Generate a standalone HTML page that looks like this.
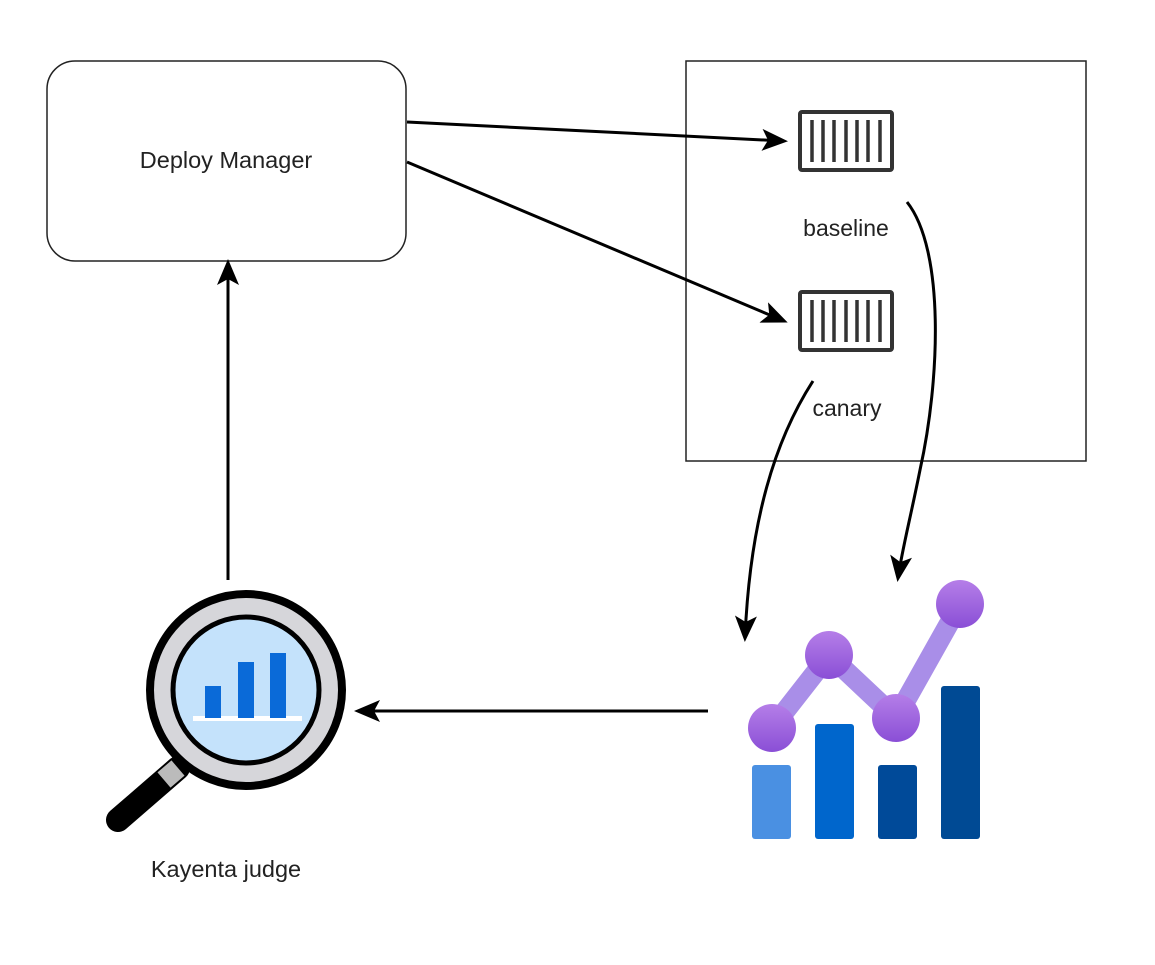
<!DOCTYPE html>
<html><head><meta charset="utf-8"><style>
html,body{margin:0;padding:0;background:#fff;}
svg{display:block;}
text{font-family:"Liberation Sans",sans-serif;fill:#222;}
</style></head><body>
<svg width="1155" height="965" viewBox="0 0 1155 965" xmlns="http://www.w3.org/2000/svg">
<defs>
<marker id="ahb" markerWidth="26" markerHeight="22" refX="22" refY="11" orient="auto" markerUnits="userSpaceOnUse" viewBox="0 0 26 22">
<path d="M0,0 L26,11 L0,22 L6,11 Z" fill="#000"/>
</marker>
<linearGradient id="pg" x1="0" y1="0" x2="0" y2="1"><stop offset="0" stop-color="#b57ee8"/><stop offset="1" stop-color="#8a4fd6"/></linearGradient>
</defs>

<rect x="47" y="61" width="359" height="200" rx="28" fill="#fff" stroke="#222" stroke-width="1.5"/>
<text x="226" y="168" font-size="23.5" text-anchor="middle">Deploy Manager</text>

<rect x="686" y="61" width="400" height="400" fill="#fff" stroke="#222" stroke-width="1.5"/>

<g fill="#fff" stroke="#333" stroke-width="4">
<rect x="800" y="112" width="92" height="58" rx="2"/>
<rect x="800" y="292" width="92" height="58" rx="2"/>
</g>
<g stroke="#333" stroke-width="3.5">
<path d="M812,120V162M823,120V162M834,120V162M846,120V162M857,120V162M868,120V162M880,120V162"/>
<path d="M812,300V342M823,300V342M834,300V342M846,300V342M857,300V342M868,300V342M880,300V342"/>
</g>
<text x="846" y="236" font-size="23" text-anchor="middle" fill="#444">baseline</text>
<text x="847" y="416" font-size="23" text-anchor="middle" fill="#444">canary</text>

<g fill="none" stroke="#000" stroke-width="3">
<line x1="407" y1="122" x2="784" y2="141" marker-end="url(#ahb)"/>
<line x1="407" y1="162" x2="784" y2="321" marker-end="url(#ahb)"/>
<line x1="228" y1="580" x2="228" y2="263" marker-end="url(#ahb)"/>
<line x1="708" y1="711" x2="358" y2="711" marker-end="url(#ahb)"/>
<path d="M907,202 C945,250 940,380 920,470 C910,520 902,550 898,578" marker-end="url(#ahb)"/>
<path d="M813,381 C775,440 750,520 745,638" marker-end="url(#ahb)"/>
</g>

<line x1="178" y1="768" x2="118" y2="820" stroke="#000" stroke-width="24" stroke-linecap="round"/>
<line x1="178" y1="768" x2="164" y2="780" stroke="#bbb" stroke-width="20"/>
<circle cx="246" cy="690" r="96" fill="#d6d6da" stroke="#000" stroke-width="8"/>
<circle cx="246" cy="690" r="73" fill="#c4e2fb" stroke="#000" stroke-width="5"/>
<rect x="193" y="716" width="109" height="5" fill="#fff"/>
<rect x="205" y="686" width="16" height="32" fill="#0a6ad8"/>
<rect x="238" y="662" width="16" height="56" fill="#0a6ad8"/>
<rect x="270" y="653" width="16" height="65" fill="#0a6ad8"/>
<text x="226" y="877" font-size="23.5" text-anchor="middle">Kayenta judge</text>

<rect x="752" y="765" width="39" height="74" rx="3" fill="#4a90e2"/>
<rect x="815" y="724" width="39" height="115" rx="3" fill="#0066cc"/>
<rect x="878" y="765" width="39" height="74" rx="3" fill="#004a99"/>
<rect x="941" y="686" width="39" height="153" rx="3" fill="#004a94"/>
<polyline points="772,728 829,655 896,718 960,604" fill="none" stroke="#a98ee8" stroke-width="20"/>
<circle cx="772" cy="728" r="24" fill="url(#pg)"/>
<circle cx="829" cy="655" r="24" fill="url(#pg)"/>
<circle cx="896" cy="718" r="24" fill="url(#pg)"/>
<circle cx="960" cy="604" r="24" fill="url(#pg)"/>
</svg>
</body></html>
